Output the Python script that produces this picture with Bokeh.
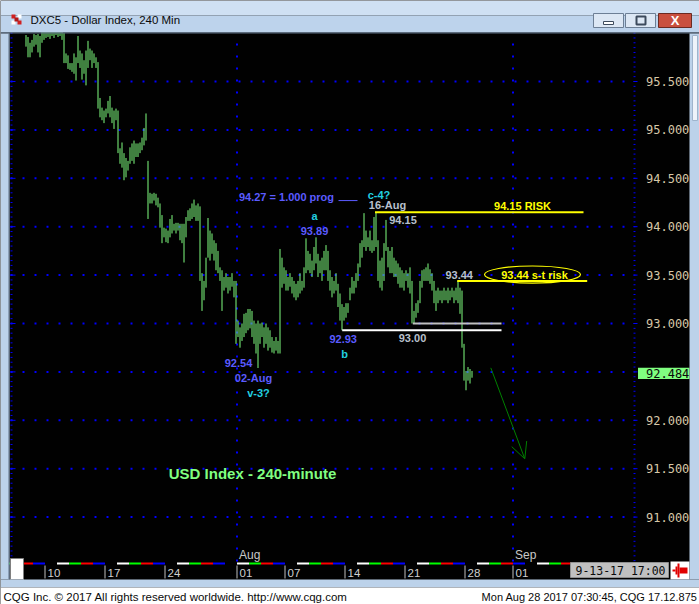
import numpy as np
from bokeh.plotting import figure
from bokeh.models import Range1d, Arrow, OpenHead, Grid
from bokeh.core.properties import value
from bokeh.embed import file_html
from bokeh.resources import INLINE

# ---------------------------------------------------------------------------
# DXC5 240-minute bars. Bar index 0 = first bar of Mon 10 Jul 2017,
# six bars per trading day.
# ---------------------------------------------------------------------------
FIRST_BAR = -10
bar_high = [
    95.98, 95.96, 95.90, 95.93, 95.99, 95.98, 95.99, 95.97, 96.02, 96.03,
    96.05, 96.06, 96.04, 96.05, 96.03, 96.06, 96.04, 96.05, 96.03, 96.00,
    95.79, 95.77, 95.69, 95.69, 95.79, 95.75, 95.97, 95.82, 95.79, 95.72,
    95.82, 95.92, 95.84, 95.82, 95.79, 95.75, 95.70, 95.33, 95.23, 95.20,
    95.22, 95.30, 95.35, 95.23, 95.20, 95.22, 95.20, 94.81, 94.87, 94.76,
    94.71, 94.68, 94.82, 94.86, 94.89, 94.86, 94.86, 94.87, 94.92, 95.02,
    95.17, 94.68, 94.35, 94.34, 94.35, 94.34, 94.30, 94.24, 94.12, 93.99,
    93.98, 93.96, 94.08, 94.12, 94.03, 94.04, 94.04, 94.03, 94.03, 94.03,
    94.10, 94.17, 94.19, 94.24, 94.28, 94.22, 94.24, 94.21, 93.52, 93.44,
    93.68, 94.09, 93.96, 93.93, 93.86, 93.83, 93.75, 93.58, 93.55, 93.48,
    93.52, 93.48, 93.48, 93.52, 93.44, 93.44, 93.03, 92.96, 93.00, 93.10,
    93.11, 93.15, 93.15, 93.13, 93.03, 93.00, 93.03, 93.00, 93.01, 92.96,
    93.00, 92.96, 92.93, 92.86, 92.82, 92.86, 92.82, 93.77, 93.68, 93.58,
    93.55, 93.48, 93.52, 93.48, 93.44, 93.41, 93.44, 93.52, 93.44, 93.58,
    93.88, 93.75, 93.72, 93.65, 93.79, 93.89, 93.72, 93.65, 93.68, 93.75,
    93.81, 93.75, 93.55, 93.48, 93.44, 93.52, 93.41, 93.31, 93.20, 93.17,
    93.21, 93.21, 93.37, 93.48, 93.44, 93.52, 93.62, 93.83, 93.86, 94.14,
    93.96, 93.89, 93.96, 93.86, 94.10, 94.15, 93.86, 93.65, 93.68, 93.83,
    94.07, 93.79, 93.75, 93.79, 93.68, 93.65, 93.62, 93.58, 93.55, 93.52,
    93.55, 93.52, 93.58, 93.44, 93.13, 93.21, 93.24, 93.44, 93.55, 93.56,
    93.58, 93.62, 93.56, 93.52, 93.44, 93.34, 93.37, 93.34, 93.34, 93.37,
    93.34, 93.37, 93.34, 93.37, 93.34, 93.37, 93.44, 93.37, 93.34, 92.79,
    92.51, 92.55, 92.53, 92.51,
]
bar_low = [
    95.86, 95.75, 95.75, 95.80, 95.86, 95.88, 95.80, 95.75, 95.90, 95.93,
    95.95, 95.96, 95.94, 95.97, 95.95, 95.98, 95.96, 95.97, 95.93, 95.69,
    95.69, 95.63, 95.62, 95.60, 95.58, 95.51, 95.69, 95.64, 95.52, 95.58,
    95.46, 95.64, 95.72, 95.64, 95.69, 95.64, 95.22, 95.13, 95.10, 95.07,
    95.13, 95.17, 95.13, 95.07, 95.01, 95.10, 94.76, 94.65, 94.61, 94.48,
    94.51, 94.58, 94.65, 94.68, 94.65, 94.72, 94.72, 94.76, 94.79, 94.84,
    94.89, 94.08, 94.24, 94.24, 94.27, 94.22, 94.20, 93.99, 93.83, 93.89,
    93.84, 93.83, 93.89, 93.93, 93.96, 93.93, 93.96, 93.86, 93.83, 93.63,
    93.89, 94.06, 94.06, 94.08, 94.10, 94.06, 94.06, 93.44, 93.13, 93.24,
    93.37, 93.68, 93.65, 93.72, 93.65, 93.55, 93.52, 93.44, 93.13, 93.34,
    93.37, 93.31, 93.34, 93.38, 93.27, 92.79, 92.86, 92.75, 92.82, 92.86,
    92.90, 92.93, 92.95, 92.86, 92.79, 92.69, 92.54, 92.79, 92.86, 92.75,
    92.79, 92.72, 92.75, 92.70, 92.69, 92.72, 92.69, 92.69, 93.37, 93.41,
    93.34, 93.34, 93.38, 93.31, 93.27, 93.24, 93.27, 93.31, 93.34, 93.37,
    93.52, 93.55, 93.52, 93.48, 93.55, 93.62, 93.48, 93.52, 93.44, 93.55,
    93.55, 93.44, 93.34, 93.27, 93.31, 93.34, 93.17, 93.03, 92.93, 93.03,
    93.06, 93.11, 93.24, 93.31, 93.31, 93.37, 93.44, 93.58, 93.68, 93.79,
    93.75, 93.79, 93.75, 93.73, 93.75, 93.79, 93.44, 93.37, 93.34, 93.44,
    93.75, 93.58, 93.52, 93.52, 93.48, 93.48, 93.41, 93.37, 93.37, 93.34,
    93.44, 93.37, 93.31, 93.00, 93.00, 93.06, 93.11, 93.21, 93.37, 93.44,
    93.44, 93.44, 93.41, 93.34, 93.21, 93.13, 93.21, 93.24, 93.21, 93.24,
    93.24, 93.21, 93.24, 93.27, 93.21, 93.24, 93.21, 93.10, 92.75, 92.41,
    92.31, 92.41, 92.38, 92.44,
]
LAST_PRICE = 92.484

# calendar: trading-day index (0 = Mon 10 Jul)
BARS_PER_DAY = 6
tick_days = [0, 5, 10, 16, 20, 25, 30, 35, 39]
tick_labels = ["10", "17", "24", "01", "07", "14", "21", "28", "01"]
month_days = [16, 39]
month_labels = ["Aug", "Sep"]
INK = "#010101"   # panel black
weekday_colors = [INK, "#ffffff", "#00ff00", "#ff0000", "#0000ff"]  # Mon..Fri
strip_days = list(range(-3, 50))

# price scale
price_labels = [91.0, 91.5, 92.0, 93.0, 93.5, 94.0, 94.5, 95.0, 95.5]
grid_prices = [91.0, 91.5, 92.0, 92.5, 93.0, 93.5, 94.0, 94.5, 95.0, 95.5]
minor_prices = list(np.round(np.arange(90.55, 96.0, 0.05), 2))

# window geometry: 2 px per bar, 96.8 px per index point
PX, PPU = 2.0, 96.8
BAR_LO, BAR_HI = -22.75, 326.75          # window x 0 .. 699
PRICE_LO, PRICE_HI = 90.09711, 96.33678  # window y 604 .. 0
PANEL_TOP, CHART_BOTTOM = 95.9855, 90.5413
CHART_LEFT, SCALE_EDGE, LABEL_X, PANEL_RIGHT = -17.75, 293.75, 300.0, 321.75

# drawn levels: price, first bar, last bar, colour, width
level_price = [94.15, 93.44, 92.93, 93.00, 94.27]
level_x0 = [164.5, 205.6, 148.1, 183.4, 146.25]
level_x1 = [268.75, 270.6, 227.75, 227.75, 155.75]
level_color = ["#ffff00", "#ffff00", "#ffffff", "#c0c0c0", "#5b5bff"]
level_width = [2, 2, 2, 2, 1]

# chart notes: bar position, price, text, colour
note_x = [120.25, 134.25, 148.6, 96.25, 103.75,
          134.25, 149.25, 166.5, 106.25,
          170.75, 178.5, 183.25, 206.6,
          238.25, 244.25]
note_y = [94.302, 93.96, 92.845, 92.587, 92.44,
          94.11, 92.68, 94.33, 92.28,
          94.22, 94.07, 92.85, 93.496,
          94.219, 93.506]
note_text = ["94.27 = 1.000 prog", "93.89", "92.93", "92.54", "02-Aug",
             "a", "b", "c-4?", "v-3?",
             "16-Aug", "94.15", "93.00", "93.44",
             "94.15 RISK", "93.44 s-t risk"]
note_color = ["#5b5bff"] * 5 + ["#22d0e0"] * 4 + ["#b8c0cc"] * 4 + ["#ffff00"] * 2

BLUE_CHROME = "#bcd2ea"
FRAME_DARK = "#5d6f84"
GREEN = "#80ff80"
SCALE_BLUE = "#0000ff"
TEXT_DARK = "#0a0a0a"
SANS = "Liberation Sans"
MONO = "DejaVu Sans Mono"

p = figure(width=699, height=604, output_backend="svg", toolbar_location=None,
           x_range=Range1d(BAR_LO, BAR_HI), y_range=Range1d(PRICE_LO, PRICE_HI),
           x_axis_location=None, y_axis_location=None, min_border=0,
           background_fill_color=INK, border_fill_color=INK,
           outline_line_color=None)
p.center = [r for r in p.center if not isinstance(r, Grid)]
# window-pixel ranges for the window furniture
p.extra_x_ranges = {"px": Range1d(0, 699)}
p.extra_y_ranges = {"py": Range1d(604, 0)}
W = dict(x_range_name="px", y_range_name="py")

# ---------------------------------------------------------------- chart panel
p.quad(left=[9], right=[689], top=[33], bottom=[579], fill_color=INK, line_color=None, **W)
p.segment(x0=CHART_LEFT, y0=grid_prices, x1=SCALE_EDGE, y1=grid_prices,
          line_color=SCALE_BLUE, line_width=2, line_dash="2 10")
month_bars = [d * BARS_PER_DAY - 0.5 for d in month_days]
p.segment(x0=month_bars, y0=CHART_BOTTOM, x1=month_bars, y1=PANEL_TOP,
          line_color=SCALE_BLUE, line_width=2, line_dash="2 10")

# price scale ticks (inner left edge and scale column) and labels
p.segment(x0=CHART_LEFT, y0=minor_prices, x1=CHART_LEFT + 2 / PX, y1=minor_prices,
          line_color=SCALE_BLUE, line_width=1)
p.segment(x0=CHART_LEFT, y0=grid_prices, x1=CHART_LEFT + 5 / PX, y1=grid_prices,
          line_color=SCALE_BLUE, line_width=1)
p.segment(x0=SCALE_EDGE, y0=minor_prices, x1=SCALE_EDGE + 2 / PX, y1=minor_prices,
          line_color=SCALE_BLUE, line_width=1)
p.segment(x0=SCALE_EDGE, y0=grid_prices, x1=SCALE_EDGE + 4 / PX, y1=grid_prices,
          line_color=SCALE_BLUE, line_width=1)
p.text(x=LABEL_X, y=price_labels, text=[f"{v:.3f}" for v in price_labels],
       text_color="#d8c8a8", text_font=value(MONO), text_font_size="12px",
       text_align="left", text_baseline="middle")

# last-price tag
box_half = 5.6 / PPU
p.quad(left=[SCALE_EDGE + 4.5 / PX], right=[PANEL_RIGHT], top=[LAST_PRICE + box_half],
       bottom=[LAST_PRICE - box_half], fill_color=GREEN, line_color=None)
p.text(x=[LABEL_X], y=[LAST_PRICE], text=[f"{LAST_PRICE:.3f}"], text_color=TEXT_DARK,
       text_font=value(MONO), text_font_size="12px", text_align="left",
       text_baseline="middle")

# price bars
idx = list(range(FIRST_BAR, FIRST_BAR + len(bar_high)))
p.segment(x0=idx, y0=bar_low, x1=idx, y1=bar_high, line_color=GREEN, line_width=1)

# levels and notes
p.segment(x0=level_x0, y0=level_price, x1=level_x1, y1=level_price,
          line_color=level_color, line_width=level_width)
p.ellipse(x=[243.25], y=[93.506], width=[48], height=[0.176],
          fill_color=None, line_color="#ffff00", line_width=1.2)
p.text(x=note_x, y=note_y, text=note_text, text_color=note_color,
       text_font=value(SANS), text_font_style="bold", text_font_size="11px",
       text_align="center", text_baseline="middle")
p.text(x=[103.25], y=[91.447], text=["USD Index - 240-minute"], text_color=GREEN,
       text_font=value(SANS), text_font_style="bold", text_font_size="15px",
       text_align="center", text_baseline="middle")
p.text(x=month_bars, y=[CHART_BOTTOM] * len(month_bars), text=month_labels,
       text_color="#c8c8c8", text_font=value(SANS), text_font_size="12px",
       text_align="left", text_baseline="bottom", x_offset=2)
p.add_layout(Arrow(end=OpenHead(size=16, line_color="#008000", line_width=1),
                   x_start=222.4, y_start=92.542, x_end=239.4, y_end=91.602,
                   line_color="#008000", line_width=1))

# ---------------------------------------------------------------- date scale
strip_l = [d * BARS_PER_DAY - 0.5 for d in strip_days]
strip_r = [d * BARS_PER_DAY + 5.5 for d in strip_days]
strip_c = [weekday_colors[d % 5] for d in strip_days]
p.quad(left=strip_l, right=strip_r, top=562, bottom=564, fill_color=strip_c,
       line_color=None, y_range_name="py")
tick_bars = [d * BARS_PER_DAY - 0.5 for d in tick_days]
p.segment(x0=tick_bars, y0=565, x1=tick_bars, y1=578, line_color="#c0c0c0",
          line_width=1, y_range_name="py")
p.text(x=tick_bars, y=572, text=tick_labels, text_color="#d0d0d0", text_font=value(SANS),
       text_font_size="11.5px", text_align="left", text_baseline="middle", x_offset=2.5,
       y_range_name="py")
p.quad(left=[634], right=[689], top=[561], bottom=[579], fill_color=INK,
       line_color=None, **W)
p.quad(left=[10], right=[23], top=[558], bottom=[579], fill_color="#ffffff",
       line_color="#808080", **W)
p.quad(left=[570], right=[668], top=[562], bottom=[577], fill_color="#c0c0c0",
       line_color="#909090", **W)
p.text(x=[620], y=[570], text=["9-13-17 17:00"], text_font=value(MONO),
       text_font_size="11.5px", text_color=TEXT_DARK, text_align="center",
       text_baseline="middle", **W)
p.quad(left=[670], right=[689], top=[561], bottom=[579], fill_color="#ffffff",
       line_color=None, **W)
p.quad(left=[679, 672, 675, 677], right=[687, 675, 677, 679],
       top=[567, 569, 566, 563], bottom=[573, 571, 574, 577],
       fill_color="#e00000", line_color=None, **W)

# ---------------------------------------------------------------- window frame
# title bar
p.quad(left=[0, 0], right=[699, 699], top=[0, 15], bottom=[15, 32],
       fill_color=["#cfe0f3", "#bdd3ec"], line_color=None, **W)
p.quad(left=[0], right=[699], top=[32], bottom=[33], fill_color=FRAME_DARK,
       line_color=None, **W)
p.quad(left=[11, 17, 11, 17, 14], right=[15, 21, 15, 21, 18],
       top=[14, 14, 20, 20, 17], bottom=[18, 18, 24, 24, 21],
       fill_color=["#d02020", "#ffffff", "#ffffff", "#d02020", "#b01818"],
       line_color=None, **W)
p.text(x=[30], y=[19], text=["DXC5 - Dollar Index, 240 Min"], text_font=value(SANS),
       text_font_size="11.5px", text_color=TEXT_DARK, text_baseline="middle", **W)
p.quad(left=[593, 625], right=[623, 655], top=[13, 13], bottom=[27, 27],
       fill_color="#dce7f4", line_color="#6d7f95", **W)
p.quad(left=[603], right=[613], top=[21], bottom=[24], fill_color="#ffffff",
       line_color="#3c4a5c", **W)
p.quad(left=[636], right=[645], top=[16], bottom=[24], fill_color=None,
       line_color="#3c4a5c", line_width=2, **W)
p.quad(left=[658], right=[691], top=[13], bottom=[27], fill_color="#c9503f",
       line_color="#6b2a22", **W)
p.text(x=[674.5], y=[20], text=["X"], text_font=value(SANS), text_font_style="bold",
       text_font_size="13px", text_color="#ffffff", text_align="center",
       text_baseline="middle", **W)
# side frame and scroll bar
p.quad(left=[0, 689], right=[9, 699], top=[33, 33], bottom=[579, 579],
       fill_color=BLUE_CHROME, line_color=None, **W)
p.quad(left=[8], right=[9], top=[33], bottom=[579], fill_color=FRAME_DARK,
       line_color=None, **W)
p.quad(left=[692], right=[697], top=[35], bottom=[120], fill_color="#eef3fa",
       line_color="#9fb4cc", **W)
# status line
p.quad(left=[0, 0], right=[699, 699], top=[579, 587], bottom=[587, 604],
       fill_color=[BLUE_CHROME, "#ffffff"], line_color=None, **W)
p.text(x=[3], y=[596.5],
       text=["CQG Inc. \u00a9 2017 All rights reserved worldwide. http://www.cqg.com"],
       text_font=value(SANS), text_font_size="11.5px", text_color=TEXT_DARK,
       text_baseline="middle", **W)
p.text(x=[697], y=[596.5], text=["Mon Aug 28 2017 07:30:45, CQG 17.12.875"],
       text_font=value(SANS), text_font_size="11px", text_color=TEXT_DARK,
       text_align="right", text_baseline="middle", **W)

open("out.html", "w").write(file_html(p, INLINE))
